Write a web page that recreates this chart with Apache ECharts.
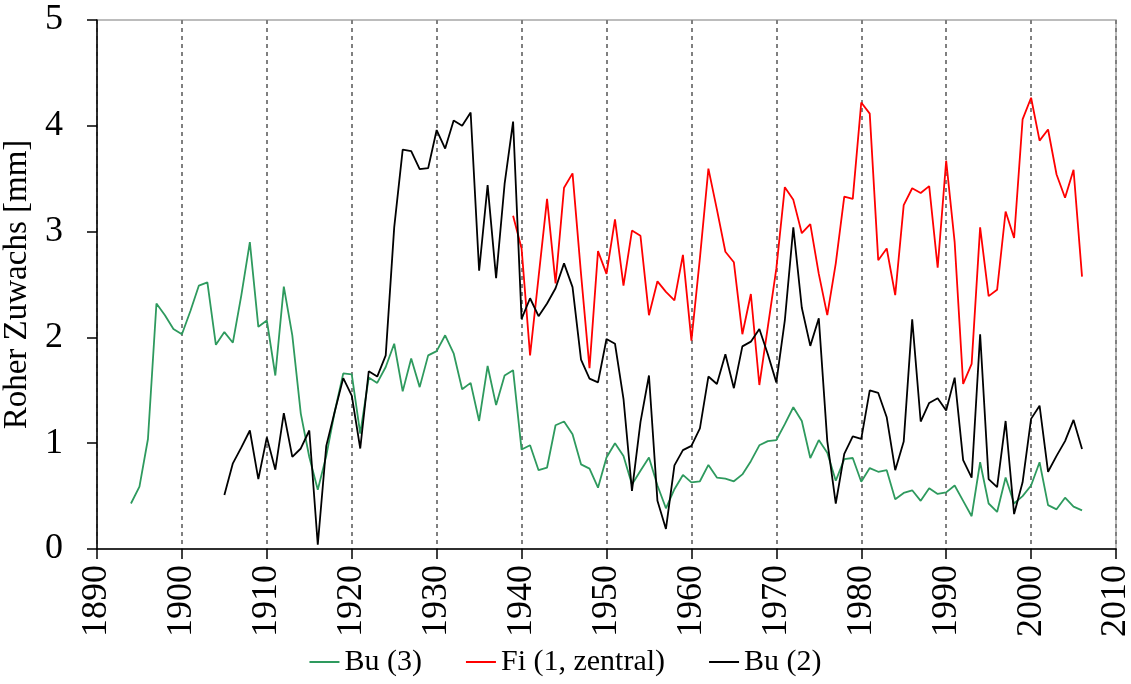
<!DOCTYPE html>
<html>
<head>
<meta charset="utf-8">
<title>Roher Zuwachs</title>
<script src="https://cdn.jsdelivr.net/npm/echarts@6/dist/echarts.min.js"></script>
<style>
  html, body { margin: 0; padding: 0; background: #fff; }
  #chart { width: 1131px; height: 684px; }
</style>
</head>
<body>
<div id="chart"></div>
<script>
// Annual raw ring-width increment per tree, in mm
const seriesNames = ['Bu (3)', 'Fi (1, zentral)', 'Bu (2)'];

const bu3Start = 1894;
const bu3 = [
  0.43, 0.59, 1.04, 2.32, 2.21, 2.08, 2.03, 2.25, 2.49, 2.52,
  1.93, 2.05, 1.95, 2.40, 2.90, 2.10, 2.16, 1.64, 2.48, 2.02,
  1.28, 0.87, 0.56, 0.88, 1.30, 1.66, 1.65, 1.09, 1.62, 1.57,
  1.72, 1.94, 1.49, 1.80, 1.53, 1.83, 1.87, 2.02, 1.85, 1.51,
  1.57, 1.21, 1.73, 1.36, 1.64, 1.69, 0.94, 0.98, 0.745, 0.77,
  1.17, 1.205, 1.085, 0.80, 0.76, 0.58, 0.865, 1.00, 0.88, 0.61,
  0.74, 0.865, 0.60, 0.385, 0.565, 0.70, 0.63, 0.64, 0.795, 0.675,
  0.665, 0.64, 0.705, 0.83, 0.98, 1.02, 1.03, 1.18, 1.34, 1.21,
  0.86, 1.03, 0.91, 0.645, 0.85, 0.86, 0.635, 0.765, 0.73, 0.745,
  0.47, 0.53, 0.555, 0.455, 0.575, 0.52, 0.535, 0.60, 0.455, 0.31,
  0.82, 0.43, 0.35, 0.675, 0.43, 0.50, 0.60, 0.82, 0.415, 0.375,
  0.485, 0.40, 0.365
];

const fi1Start = 1939;
const fi1 = [
  3.15, 2.84, 1.83, 2.57, 3.31, 2.51, 3.415, 3.55, 2.60, 1.71,
  2.815, 2.60, 3.115, 2.49, 3.01, 2.96, 2.21, 2.53, 2.43, 2.35,
  2.78, 1.97, 2.75, 3.595, 3.21, 2.81, 2.71, 2.03, 2.41, 1.55,
  2.10, 2.65, 3.42, 3.30, 2.985, 3.07, 2.60, 2.21, 2.70, 3.33,
  3.31, 4.22, 4.115, 2.73, 2.84, 2.40, 3.25, 3.41, 3.365, 3.43,
  2.66, 3.67, 2.90, 1.56, 1.75, 3.04, 2.39, 2.45, 3.19, 2.94,
  4.06, 4.265, 3.86, 3.965, 3.54, 3.32, 3.585, 2.575
];

const bu2Start = 1905;
const bu2 = [
  0.51, 0.81, 0.96, 1.12, 0.66, 1.055, 0.75, 1.285, 0.87, 0.95,
  1.12, 0.04, 0.975, 1.30, 1.615, 1.45, 0.95, 1.68, 1.63, 1.83,
  3.04, 3.775, 3.76, 3.59, 3.60, 3.96, 3.785, 4.05, 4.00, 4.125,
  2.63, 3.44, 2.56, 3.45, 4.04, 2.175, 2.37, 2.20, 2.32, 2.465,
  2.70, 2.475, 1.79, 1.61, 1.575, 1.985, 1.94, 1.42, 0.55, 1.20,
  1.64, 0.455, 0.19, 0.79, 0.935, 0.975, 1.14, 1.63, 1.56, 1.84,
  1.52, 1.915, 1.96, 2.08, 1.84, 1.575, 2.16, 3.04, 2.28, 1.92,
  2.18, 1.02, 0.43, 0.90, 1.065, 1.04, 1.50, 1.475, 1.245, 0.745,
  1.015, 2.17, 1.205, 1.38, 1.425, 1.31, 1.62, 0.84, 0.675, 2.03,
  0.66, 0.585, 1.21, 0.33, 0.63, 1.23, 1.355, 0.73, 0.88, 1.02,
  1.22, 0.945
];

const yearMin = 1890, yearMax = 2010, yearStep = 10;
const valueMin = 0, valueMax = 5, valueStep = 1;

const serif = "'Liberation Serif', 'Times New Roman', 'DejaVu Serif', serif";

function pairs(start, values) {
  return values.map((v, i) => [start + i, v]);
}

function lineSeries(name, start, values, color) {
  return {
    name: name,
    type: 'line',
    data: pairs(start, values),
    symbol: 'none',
    showSymbol: false,
    smooth: false,
    lineStyle: { color: color, width: 1.8 },
    itemStyle: { color: color },
    animation: false
  };
}

const chart = echarts.init(document.getElementById('chart'), null, { renderer: 'canvas' });

chart.setOption({
  backgroundColor: '#ffffff',
  animation: false,
  textStyle: { fontFamily: serif },
  grid: {
    left: 97, right: 15, top: 20, bottom: 135,
    containLabel: false,
    outerBoundsMode: 'none',
    show: true,
    borderColor: '#a6a6a6',
    borderWidth: 1.5,
    backgroundColor: 'transparent'
  },
  legend: {
    data: seriesNames,
    bottom: 2,
    left: 'center',
    itemWidth: 30,
    itemHeight: 2,
    itemGap: 44,
    icon: 'rect',
    textStyle: { fontFamily: serif, fontSize: 30, color: '#000' }
  },
  xAxis: {
    type: 'value',
    min: yearMin,
    max: yearMax,
    interval: yearStep,
    axisLine: { show: true, onZero: false, lineStyle: { color: '#000', width: 1.5 } },
    axisTick: { show: true, length: 10, lineStyle: { color: '#000', width: 1.5 } },
    axisLabel: {
      rotate: 90,
      margin: 16,
      fontFamily: serif,
      fontSize: 36,
      color: '#000',
      showMinLabel: true,
      showMaxLabel: true,
      formatter: v => String(v)
    },
    splitLine: {
      show: true,
      lineStyle: { color: '#808080', width: 2, type: [4, 4] }
    }
  },
  yAxis: {
    type: 'value',
    min: valueMin,
    max: valueMax,
    interval: valueStep,
    name: 'Roher Zuwachs [mm]',
    nameLocation: 'middle',
    nameGap: 62,
    nameRotate: 90,
    nameTextStyle: { fontFamily: serif, fontSize: 33, color: '#000' },
    axisLine: { show: true, lineStyle: { color: '#000', width: 1.5 } },
    axisTick: { show: true, length: 10, lineStyle: { color: '#000', width: 1.5 } },
    axisLabel: { margin: 34, fontFamily: serif, fontSize: 36, color: '#000' },
    splitLine: { show: false }
  },
  series: [
    lineSeries(seriesNames[0], bu3Start, bu3, '#2e9a5e'),
    lineSeries(seriesNames[1], fi1Start, fi1, '#ff0000'),
    lineSeries(seriesNames[2], bu2Start, bu2, '#000000')
  ]
});
</script>
</body>
</html>
